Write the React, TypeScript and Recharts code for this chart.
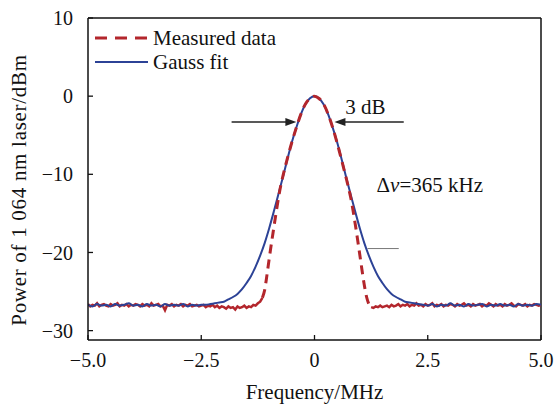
import React from "react";
import {
  LineChart,
  Line,
  XAxis,
  YAxis,
  Legend,
  ReferenceLine,
  ReferenceDot,
  Label,
} from "recharts";

const FONT = '"Liberation Serif", "DejaVu Serif", "Noto Serif", serif';
const RED = "#b3262c";
const BLUE = "#2c4296";

const X_TICKS = [-5, -2.5, 0, 2.5, 5];
const Y_TICKS = [10, 0, -10, -20, -30];

// measured spectrum, noisy floor left of the peak (x = -5.00 .. -1.15, step 0.05)
const MEAS_LEFT_START = -5;
const MEAS_LEFT = [
  -26.6, -26.9, -26.7, -26.8, -26.5, -26.9, -26.7, -26.6, -26.8, -26.9,
  -26.6, -26.8, -26.7, -26.5, -26.9, -26.7, -26.8, -26.6, -26.9, -26.7,
  -26.8, -26.6, -26.7, -26.9, -26.6, -26.8, -26.7, -26.9, -26.5, -26.8,
  -26.7, -26.6, -26.9, -26.8, -27.4, -26.7, -26.8, -26.6, -26.9, -26.7,
  -26.8, -26.6, -26.9, -26.7, -26.8, -26.6, -26.9, -26.8, -26.7, -26.9,
  -26.8, -26.7, -27.0, -26.8, -26.9, -26.7, -27.0, -26.8, -27.1, -26.9,
  -27.0, -27.2, -26.9, -27.1, -27.0, -27.3, -26.9, -27.1, -27.0, -26.8,
  -27.1, -26.9, -27.0, -26.7, -26.8, -26.5, -26.3, -25.8,
];

// measured spectrum, peak part (dashed)
const MEAS_PEAK_X = [
  -1.15, -1.1, -1.05, -1.0, -0.95, -0.9, -0.85, -0.8, -0.75, -0.7, -0.6, -0.5,
  -0.4, -0.3, -0.2, -0.1, 0, 0.1, 0.2, 0.3, 0.4, 0.5, 0.6, 0.7, 0.75, 0.8,
  0.85, 0.9, 0.95, 1.0, 1.05, 1.1, 1.15, 1.2, 1.25,
];
const MEAS_PEAK = [
  -25.8, -24.8, -22.9, -20.8, -18.8, -16.9, -15.0, -13.2, -11.6, -10.3, -8.0,
  -5.9, -4.0, -2.3, -1.0, -0.3, 0, -0.3, -1.0, -2.3, -4.0, -6.0, -8.2, -10.5,
  -11.7, -13.0, -14.6, -16.4, -18.3, -20.3, -22.3, -24.2, -25.7, -26.6, -27.0,
];

// measured spectrum, noisy floor right of the peak (x = 1.25 .. 5.00, step 0.05)
const MEAS_RIGHT_START = 1.25;
const MEAS_RIGHT = [
  -27.0, -27.1, -26.9, -27.0, -26.8, -27.0, -26.9, -26.8, -27.0, -26.7,
  -26.9, -26.8, -26.6, -26.9, -26.7, -26.8, -26.6, -26.9, -26.7, -26.8,
  -26.5, -26.8, -26.7, -26.9, -26.6, -26.8, -26.7, -26.5, -26.9, -26.7,
  -26.8, -26.6, -26.9, -26.7, -26.8, -26.6, -26.7, -26.9, -26.6, -26.8,
  -26.7, -26.5, -26.8, -26.7, -26.9, -26.6, -26.8, -26.7, -26.6, -26.9,
  -26.7, -26.8, -26.5, -26.7, -26.9, -26.6, -26.8, -26.7, -26.9, -26.6,
  -26.8, -26.7, -26.5, -26.8, -26.9, -26.6, -26.7, -26.8, -26.6, -26.9,
  -26.7, -26.8, -26.6, -26.7, -26.8, -26.7,
];

// Gauss fit (x = -5.0 .. 5.0, step 0.1)
const FIT_START = -5;
const FIT = [
  -26.7, -26.9, -26.6, -26.8, -26.7, -26.9, -26.6, -26.8, -26.7, -26.5,
  -26.8, -26.7, -26.9, -26.6, -26.8, -26.7, -26.9, -26.6, -26.8, -26.7,
  -26.8, -26.6, -26.9, -26.7, -26.8, -26.7,
  -26.7, -26.6, -26.5, -26.4, -26.3, -26.0, -25.7, -25.3, -24.7, -23.9,
  -23.0, -21.8, -20.4, -18.8, -16.9, -14.8, -12.6, -10.4, -8.1, -5.9,
  -4.0, -2.3, -1.05, -0.27, 0, -0.27, -1.05, -2.3, -4.0, -5.9,
  -8.1, -10.4, -12.6, -14.8, -16.9, -18.8, -20.4, -21.8, -23.0, -23.9,
  -24.7, -25.3, -25.7, -26.0, -26.3, -26.4, -26.5, -26.6, -26.7,
  -26.8, -26.6, -26.9, -26.7, -26.8, -26.5, -26.8, -26.7, -26.9, -26.6,
  -26.8, -26.7, -26.6, -26.9, -26.7, -26.8, -26.6, -26.8, -26.7, -26.9,
  -26.6, -26.8, -26.7, -26.8, -26.6, -26.7,
];

const toPoints = (start: number, step: number, ys: number[]) =>
  ys.map((y, i) => ({ x: +(start + i * step).toFixed(2), y }));

const measLeft = toPoints(MEAS_LEFT_START, 0.05, MEAS_LEFT);
const measRight = toPoints(MEAS_RIGHT_START, 0.05, MEAS_RIGHT);
const measPeak = MEAS_PEAK_X.map((x, i) => ({ x, y: MEAS_PEAK[i] }));
const fit = toPoints(FIT_START, 0.1, FIT);

const fmtX = (v: number) => (v === 0 ? "0" : v.toFixed(1).replace("-", "\u2212"));
const fmtY = (v: number) => String(v).replace("-", "\u2212");

const Arrow = (props: any) => {
  const { x1, y1, x2, y2 } = props;
  const dir = x2 > x1 ? 1 : -1;
  return (
    <g>
      <line x1={x1} y1={y1} x2={x2 - dir * 8} y2={y2} stroke="#222" strokeWidth={1.4} />
      <polygon
        points={`${x2},${y2} ${x2 - dir * 11},${y2 - 4} ${x2 - dir * 11},${y2 + 4}`}
        fill="#222"
      />
    </g>
  );
};

const textAt = (content: React.ReactNode) => (props: any) => (
  <text x={props.cx} y={props.cy} fontFamily={FONT} fontSize={21} fill="#111">
    {content}
  </text>
);

function LegendBox() {
  const row = (dash: string | undefined, color: string, w: number, label: string) => (
    <div style={{ display: "flex", alignItems: "center", height: 24 }}>
      <svg width={58} height={24}>
        <line x1={0} x2={53} y1={12} y2={12} stroke={color} strokeWidth={w} strokeDasharray={dash} />
      </svg>
      <span>{label}</span>
    </div>
  );
  return (
    <div style={{ fontFamily: FONT, fontSize: 21, color: "#111", lineHeight: "24px" }}>
      {row("12 8", RED, 3, "Measured data")}
      {row(undefined, BLUE, 2, "Gauss fit")}
    </div>
  );
}

export default function App() {
  const tick = { fill: "#111", fontSize: 20, fontFamily: FONT };
  return (
    <div style={{ position: "absolute", left: 0, top: 0, width: 555, height: 404, background: "#fff" }}>
      <LineChart width={555} height={404} margin={{ top: 18, right: 14, left: 0, bottom: 0 }}>
        <XAxis
          type="number"
          dataKey="x"
          domain={[-5, 5]}
          ticks={X_TICKS}
          tickFormatter={fmtX}
          allowDataOverflow
          height={64}
          tick={tick}
          tickSize={-5}
          tickMargin={18}
          axisLine={{ stroke: "#111", strokeWidth: 1.5 }}
          tickLine={{ stroke: "#111", strokeWidth: 1.3 }}
        >
          <Label
            content={(p: any) => (
              <text
                x={p.viewBox.x + p.viewBox.width / 2}
                y={p.viewBox.y + 59}
                textAnchor="middle"
                fontFamily={FONT}
                fontSize={21}
                fill="#111"
              >
                Frequency/MHz
              </text>
            )}
          />
        </XAxis>
        <YAxis
          type="number"
          domain={[-31.2, 10]}
          ticks={Y_TICKS}
          tickFormatter={fmtY}
          allowDataOverflow
          width={88}
          tick={tick}
          tickSize={-5}
          tickMargin={20}
          axisLine={{ stroke: "#111", strokeWidth: 1.5 }}
          tickLine={{ stroke: "#111", strokeWidth: 1.3 }}
        >
          <Label
            content={(p: any) => {
              const cx = 26;
              const cy = p.viewBox.y + p.viewBox.height / 2 + 11;
              return (
                <text
                  x={cx}
                  y={cy}
                  transform={`rotate(-90 ${cx} ${cy})`}
                  textAnchor="middle"
                  fontFamily={FONT}
                  fontSize={21}
                  letterSpacing={0.7}
                  fill="#111"
                >
                  Power of 1 064 nm laser/dBm
                </text>
              );
            }}
          />
        </YAxis>
        <ReferenceLine y={10} stroke="#111" strokeWidth={1.5} />
        <ReferenceLine x={5} stroke="#111" strokeWidth={1.5} />
        <Legend
          layout="horizontal"
          verticalAlign="middle"
          align="center"
          wrapperStyle={{ left: 95, top: 26, width: "auto" }}
          content={() => <LegendBox />}
        />
        <Line data={measLeft} dataKey="y" type="linear" stroke={RED} strokeWidth={2.5} dot={false} isAnimationActive={false} legendType="none" />
        <Line data={measRight} dataKey="y" type="linear" stroke={RED} strokeWidth={2.5} dot={false} isAnimationActive={false} legendType="none" />
        <Line data={fit} dataKey="y" type="monotone" stroke={BLUE} strokeWidth={2} dot={false} isAnimationActive={false} name="Gauss fit" />
        <Line data={measPeak} dataKey="y" type="monotone" stroke={RED} strokeWidth={3} strokeDasharray="9 6" dot={false} isAnimationActive={false} name="Measured data" />
        <ReferenceLine segment={[{ x: -1.83, y: -3.3 }, { x: -0.4, y: -3.3 }]} shape={Arrow} />
        <ReferenceLine segment={[{ x: 1.97, y: -3.3 }, { x: 0.44, y: -3.3 }]} shape={Arrow} />
        <ReferenceLine segment={[{ x: 1.17, y: -19.5 }, { x: 1.86, y: -19.5 }]} stroke="#555" strokeWidth={0.8} />
        <ReferenceDot x={0.68} y={-2.3} r={0} shape={textAt("3 dB")} />
        <ReferenceDot
          x={1.37}
          y={-12.2}
          r={0}
          shape={textAt(
            <>
              {"\u0394"}
              <tspan fontStyle="italic">{"\u03bd"}</tspan>
              {"=365 kHz"}
            </>
          )}
        />
      </LineChart>
    </div>
  );
}
